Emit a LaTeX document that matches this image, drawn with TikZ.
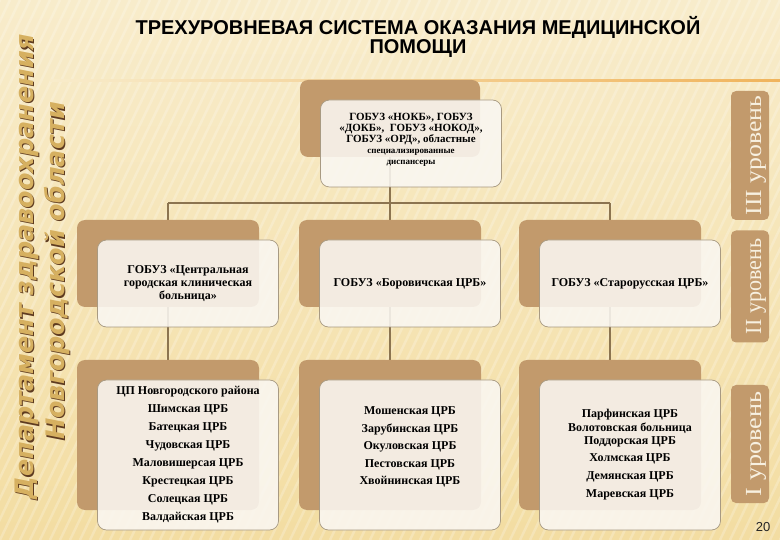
\documentclass[tikz,border=0pt]{standalone}
\usepackage{fontspec}
\setmainfont{Liberation Serif}
\newfontfamily\headfont{Liberation Sans}
\newfontfamily\sidefont{DejaVu Sans}
\usetikzlibrary{positioning}

\definecolor{tan}{HTML}{C29A6C}
\definecolor{cardfill}{HTML}{FAF7F2}
\definecolor{cardline}{HTML}{A89A82}
\definecolor{wire}{HTML}{8B7450}
\definecolor{paperlight}{HTML}{F8ECCB}
\definecolor{paperdark}{HTML}{F3DDA2}
\definecolor{rule}{HTML}{F0B45C}
\definecolor{gold}{HTML}{D6B060}
\definecolor{goldedge}{HTML}{5E3B20}
\definecolor{levelink}{HTML}{F7F0E0}

\pgfdeclarelayer{paper}
\pgfdeclarelayer{wires}
\pgfsetlayers{paper,wires,main}

\newcommand\levellabel[2]{\scalebox{#1}[1]{#2}}

\tikzset{
  back/.style={fill=tan, rounded corners=8pt, minimum width=182pt,
    minimum height=87pt, inner sep=0pt},
  card/.style={fill=cardfill, fill opacity=0.88, text opacity=1, draw=cardline,
    line width=0.7pt, rounded corners=9pt, minimum width=181pt,
    minimum height=87pt, align=center, inner sep=2pt,
    font=\fontsize{12}{13}\selectfont\bfseries},
  wire/.style={draw=wire, line width=1.5pt},
  stripe/.style={draw=white, opacity=0.22, line width=2.5pt},
  levelbox/.style={fill=tan, rounded corners=5pt, minimum width=38pt, inner sep=0pt},
  leveltext/.style={rotate=90, anchor=base, inner sep=0pt, text=levelink,
    font=\fontsize{23}{23}\selectfont},
  sidetext/.style={rotate=90, font=\sidefont\fontsize{25.5}{25.5}\selectfont\bfseries\itshape},
}

\begin{document}
\begin{tikzpicture}[x=1pt,y=-1pt]
  \useasboundingbox (0,0) rectangle (780,540);

  % paper with stripes and the rule under the title
  \begin{pgfonlayer}{paper}
    \fill[top color=paperlight, bottom color=paperdark] (0,0) rectangle (780,540);
    \begin{scope}
      \clip (0,0) rectangle (780,540);
      \foreach \i in {-260,-250,...,780}
        \draw[stripe] (\i,540) -- ++(260,-540);
    \end{scope}
    \shade[left color=paperlight, right color=rule] (50,80) rectangle (780,82);
  \end{pgfonlayer}

  % title
  \node[font=\headfont\fontsize{20}{19.5}\selectfont\bfseries, align=center] (title)
    at (418,37) {ТРЕХУРОВНЕВАЯ СИСТЕМА ОКАЗАНИЯ МЕДИЦИНСКОЙ\\ПОМОЩИ};

  % side caption
  \node[sidetext, text=goldedge] (deptshadow) at (28.3,268.3) {Департамент здравоохранения};
  \node[sidetext, text=gold] (dept) at (27,267) {Департамент здравоохранения};
  \node[sidetext, text=goldedge] (regionshadow) at (58.3,272.3) {Новгородской области};
  \node[sidetext, text=gold] (region) at (57,271) {Новгородской области};

  % level III
  \node[back, minimum width=180pt, minimum height=77pt] (t3back) at (390,118.5) {};
  \node[card] (t3) at ([shift={(21,25)}]t3back.center) {};
  \node[align=center, font=\fontsize{11}{11}\selectfont\bfseries] (t3list)
    at ([yshift=4pt]t3.center)
    {ГОБУЗ «НОКБ», ГОБУЗ\\«ДОКБ», \ ГОБУЗ «НОКОД»,\\ГОБУЗ «ОРД», областные\\
     {\fontsize{9}{11}\selectfont специализированные}\\
     {\fontsize{9}{11}\selectfont диспансеры}};

  % level II
  \node[back] (l2back) at (168,263.5) {};
  \node[back] (m2back) at (390,263.5) {};
  \node[back] (r2back) at (610,263.5) {};
  \node[card] (l2) at ([shift={(20,20)}]l2back.center)
    {ГОБУЗ «Центральная\\городская клиническая\\больница»};
  \node[card] (m2) at ([shift={(20,20)}]m2back.center) {ГОБУЗ «Боровичская ЦРБ»};
  \node[card] (r2) at ([shift={(20,20)}]r2back.center) {ГОБУЗ «Старорусская ЦРБ»};

  % level I
  \node[back, minimum height=150pt] (l1back) at (168,435) {};
  \node[back, minimum height=150pt] (m1back) at (390,435) {};
  \node[back, minimum height=150pt] (r1back) at (610,435) {};
  \node[card, minimum height=150pt, font=\fontsize{12}{18}\selectfont\bfseries] (l1)
    at ([shift={(20,20)}]l1back.center)
    {ЦП Новгородского района\\Шимская ЦРБ\\Батецкая ЦРБ\\Чудовская ЦРБ\\
     Маловишерсая ЦРБ\\Крестецкая ЦРБ\\Солецкая ЦРБ\\Валдайская ЦРБ};
  \node[card, minimum height=150pt] (m1) at ([shift={(20,20)}]m1back.center) {};
  \node[align=center, font=\fontsize{12}{17.5}\selectfont\bfseries] (m1list)
    at ([yshift=8pt]m1.center)
    {Мошенская ЦРБ\\Зарубинская ЦРБ\\Окуловская ЦРБ\\Пестовская ЦРБ\\Хвойнинская ЦРБ};
  \node[card, minimum height=150pt, font=\fontsize{12}{13.5}\selectfont\bfseries] (r1)
    at ([shift={(20,20)}]r1back.center)
    {Парфинская ЦРБ\\Волотовская больница\\Поддорская ЦРБ\\[3.5pt]Холмская ЦРБ\\[4.5pt]
     Демянская ЦРБ\\[4.5pt]Маревская ЦРБ};

  % connectors
  \coordinate (bus) at (0,203);
  \begin{pgfonlayer}{wires}
    \draw[wire] (t3back) -- (t3back |- bus);
    \draw[wire] (l2back |- bus) -- (r2back |- bus);
    \foreach \n in {l,m,r} {
      \draw[wire] (\n2back) -- (\n2back |- bus);
      \draw[wire] (\n2back) -- (\n1back);
    }
  \end{pgfonlayer}

  % level tabs
  \node[levelbox, minimum height=129pt] (lev3) at (750,155.5) {};
  \node[levelbox, minimum height=112pt] (lev2) at (750,286.5) {};
  \node[levelbox, minimum height=118pt] (lev1) at (750,444) {};
  \node[leveltext] (lev3text) at ([xshift=11pt]lev3.center) {\levellabel{1.12}{III уровень}};
  \node[leveltext] (lev2text) at ([xshift=11pt]lev2.center) {\levellabel{0.96}{II уровень}};
  \node[leveltext] (lev1text) at ([xshift=11pt]lev1.center) {\levellabel{1.14}{I уровень}};

  \node[font=\headfont\fontsize{13}{13}\selectfont, text=black!85] (page) at (763,527) {20};
\end{tikzpicture}
\end{document}
